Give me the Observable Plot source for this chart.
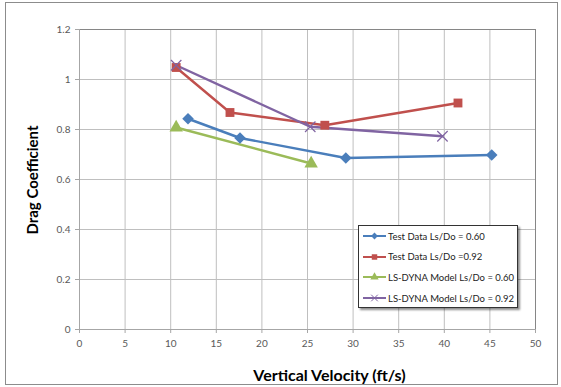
<!DOCTYPE html>
<html>
<head>
<meta charset="utf-8">
<script src="https://cdn.jsdelivr.net/npm/d3@7"></script>
<script src="https://cdn.jsdelivr.net/npm/@observablehq/plot@0.6"></script>
<style>
  html, body { margin: 0; padding: 0; background: #fff; }
  #wrap { position: relative; width: 561px; height: 387px; font-family: Lato, "Open Sans", sans-serif; }
  #border { position: absolute; left: 5px; top: 2px; width: 553px; height: 383px; border: 1px solid #8c8c8c; box-sizing: border-box; pointer-events: none; }
  .title { position: absolute; font-weight: bold; color: #000; white-space: nowrap; }
  #xt { left: 0; width: 659px; top: 365px; text-align: center; font-size: 16px; }
  #yt { left: 32px; top: 180px; font-size: 15px; transform: translate(-50%, -50%) rotate(-90deg); }
  #legend { position: absolute; left: 358px; top: 225px; width: 160px; height: 83px; border: 1px solid #333; background: #fff; box-sizing: border-box; box-shadow: 2px 2px 2px rgba(0,0,0,0.45); font-size: 9.5px; color: #222; }
  .row { position: absolute; left: 0; height: 12px; display: flex; align-items: center; }
  .row svg { margin-left: 4px; margin-right: 2px; }
</style>
</head>
<body>
<div id="wrap"></div>
<script>
// Series data (x: vertical velocity ft/s, y: drag coefficient)
const seriesNames = ["Test Data Ls/Do = 0.60", "Test Data Ls/Do =0.92", "LS-DYNA Model Ls/Do = 0.60", "LS-DYNA Model Ls/Do = 0.92"];
const seriesColors = ["#4A7EBB", "#C0504D", "#9BBB59", "#8064A2"];
const seriesSymbols = ["diamond2", "square", "triangle", "times"];

const testX060 = [11.9, 17.6, 29.2, 45.2];
const testY060 = [0.843, 0.766, 0.686, 0.698];
const testX092 = [10.6, 16.5, 26.9, 41.5];
const testY092 = [1.048, 0.868, 0.817, 0.906];
const dynaX060 = [10.6, 25.4];
const dynaY060 = [0.808, 0.664];
const dynaX092 = [10.6, 25.3, 39.8];
const dynaY092 = [1.057, 0.811, 0.773];

const xTicks = [0, 5, 10, 15, 20, 25, 30, 35, 40, 45, 50];
const yTicks = [0, 0.2, 0.4, 0.6, 0.8, 1.0, 1.2];

const xs = [testX060, testX092, dynaX060, dynaX092];
const ys = [testY060, testY092, dynaY060, dynaY092];
const data = xs.flatMap((arr, s) => arr.map((x, i) => ({series: seriesNames[s], x, y: ys[s][i]})));

const plot = Plot.plot({
  width: 561,
  height: 387,
  marginLeft: 79,
  marginRight: 26,
  marginTop: 29,
  marginBottom: 58,
  style: {fontFamily: "Lato, 'Open Sans', sans-serif", fontSize: "10px", color: "#595959", background: "transparent"},
  x: {domain: [0, 50], ticks: xTicks, label: null},
  y: {domain: [0, 1.2], ticks: yTicks, label: null, tickFormat: d => String(+d.toFixed(1))},
  color: {domain: seriesNames, range: seriesColors},
  symbol: {domain: seriesNames, range: seriesSymbols},
  marks: [
    Plot.gridX(xTicks, {stroke: "#bfbfbf", strokeOpacity: 1}),
    Plot.gridY(yTicks, {stroke: "#bfbfbf", strokeOpacity: 1}),
    Plot.ruleY([1.2], {stroke: "#868686"}),
    Plot.ruleX([50], {stroke: "#868686"}),
    Plot.ruleX([0], {stroke: "#a6a6a6"}),
    Plot.ruleY([0], {stroke: "#a6a6a6"}),
    Plot.axisX(xTicks, {tickSize: 4, tickPadding: 6, stroke: "#a6a6a6", fill: "#595959", label: null}),
    Plot.axisY(yTicks, {tickSize: 4, tickPadding: 5, stroke: "#a6a6a6", fill: "#595959", label: null, tickFormat: d => String(+d.toFixed(1))}),
    Plot.line(data, {x: "x", y: "y", z: "series", stroke: "series", strokeWidth: 2.4}),
    Plot.dot(data.filter(d => d.series === seriesNames[0]), {x: "x", y: "y", symbol: "series", fill: "series", r: 5.2, stroke: "none"}),
    Plot.dot(data.filter(d => d.series === seriesNames[1]), {x: "x", y: "y", symbol: "series", fill: "series", r: 5, stroke: "none"}),
    Plot.dot(data.filter(d => d.series === seriesNames[2]), {x: "x", y: "y", symbol: "series", fill: "series", r: 5, stroke: "none"}),
    Plot.dot(data.filter(d => d.series === seriesNames[3]), {x: "x", y: "y", symbol: "series", stroke: "series", r: 4.8, strokeWidth: 1.2, fill: "none"})
  ]
});

const wrap = document.getElementById("wrap");
wrap.appendChild(plot);

const border = document.createElement("div");
border.id = "border";
wrap.appendChild(border);

const xt = document.createElement("div");
xt.className = "title"; xt.id = "xt"; xt.textContent = "Vertical Velocity (ft/s)";
wrap.appendChild(xt);
const yt = document.createElement("div");
yt.className = "title"; yt.id = "yt"; yt.textContent = "Drag Coefficient";
wrap.appendChild(yt);

// Legend
const legend = document.createElement("div");
legend.id = "legend";
const rowTops = [4, 24.5, 45, 66];
const symTypes = {diamond2: d3.symbolDiamond2, square: d3.symbolSquare, triangle: d3.symbolTriangle, times: d3.symbolTimes};
seriesNames.forEach((name, i) => {
  const row = document.createElement("div");
  row.className = "row";
  row.style.top = rowTops[i] + "px";
  const sym = d3.symbol().type(symTypes[seriesSymbols[i]]).size(30)();
  const isTimes = seriesSymbols[i] === "times";
  row.innerHTML = `<svg width="23" height="12"><line x1="0" x2="23" y1="6" y2="6" stroke="${seriesColors[i]}" stroke-width="2"/>` +
    `<path transform="translate(11.5,6)" d="${sym}" fill="${isTimes ? "none" : seriesColors[i]}" stroke="${isTimes ? seriesColors[i] : "none"}" stroke-width="1"/></svg>` +
    `<span>${name}</span>`;
  legend.appendChild(row);
});
wrap.appendChild(legend);
</script>
</body>
</html>
